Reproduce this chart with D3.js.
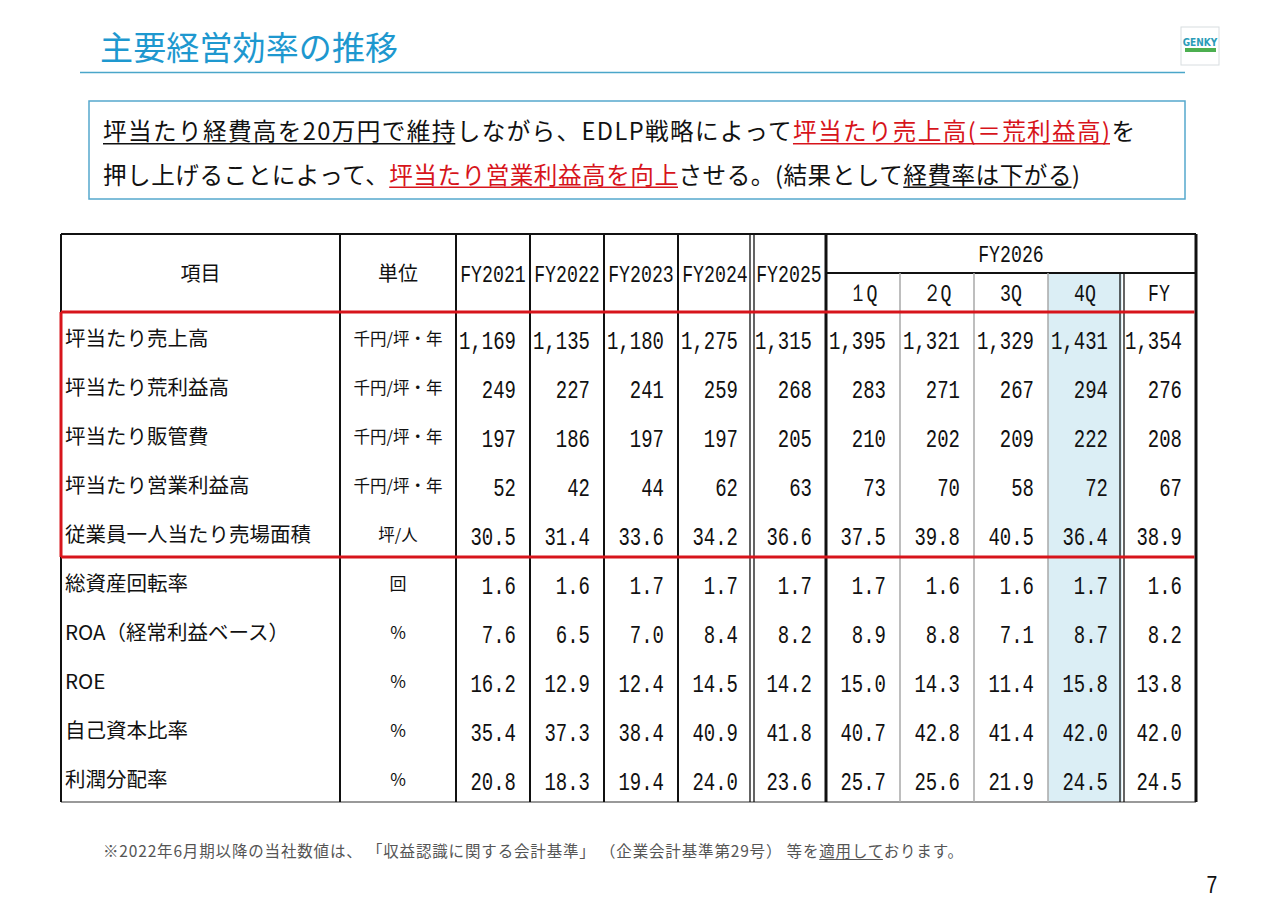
<!DOCTYPE html>
<html lang="ja">
<head>
<meta charset="utf-8">
<script src="https://cdn.jsdelivr.net/npm/d3@7"></script>
<style>
  body { margin: 0; background: #fff; }
  svg { display: block; }
  .jp { font-family: "Noto Sans CJK JP", "Noto Sans", sans-serif; }
  .num { font-family: "Liberation Mono", "DejaVu Sans Mono", monospace; }
</style>
</head>
<body>
<svg id="slide" width="1280" height="904"></svg>
<script>
// table data
const items = [
  "坪当たり売上高", "坪当たり荒利益高", "坪当たり販管費", "坪当たり営業利益高",
  "従業員一人当たり売場面積", "総資産回転率", "ROA（経常利益ベース）", "ROE",
  "自己資本比率", "利潤分配率"
];
const units = ["千円/坪・年", "千円/坪・年", "千円/坪・年", "千円/坪・年", "坪/人", "回", "%", "%", "%", "%"];
const periods = ["FY2021", "FY2022", "FY2023", "FY2024", "FY2025", "1Q", "2Q", "3Q", "4Q", "FY"];
const quarterLabels = ["１Q", "２Q", "3Q", "4Q", "FY"];

const salesPerTsubo  = [1169, 1135, 1180, 1275, 1315, 1395, 1321, 1329, 1431, 1354];
const grossPerTsubo  = [249, 227, 241, 259, 268, 283, 271, 267, 294, 276];
const sgaPerTsubo    = [197, 186, 197, 197, 205, 210, 202, 209, 222, 208];
const opPerTsubo     = [52, 42, 44, 62, 63, 73, 70, 58, 72, 67];
const areaPerStaff   = [30.5, 31.4, 33.6, 34.2, 36.6, 37.5, 39.8, 40.5, 36.4, 38.9];
const assetTurnover  = [1.6, 1.6, 1.7, 1.7, 1.7, 1.7, 1.6, 1.6, 1.7, 1.6];
const roa            = [7.6, 6.5, 7.0, 8.4, 8.2, 8.9, 8.8, 7.1, 8.7, 8.2];
const roe            = [16.2, 12.9, 12.4, 14.5, 14.2, 15.0, 14.3, 11.4, 15.8, 13.8];
const equityRatio    = [35.4, 37.3, 38.4, 40.9, 41.8, 40.7, 42.8, 41.4, 42.0, 42.0];
const payoutRatio    = [20.8, 18.3, 19.4, 24.0, 23.6, 25.7, 25.6, 21.9, 24.5, 24.5];

const rows = [salesPerTsubo, grossPerTsubo, sgaPerTsubo, opPerTsubo, areaPerStaff,
              assetTurnover, roa, roe, equityRatio, payoutRatio];

const svg = d3.select("#slide");
const RED = "#d7141b";
const BLUE = "#1e98cf";

// title
svg.append("text").attr("class", "jp")
  .attr("x", 100).attr("y", 60)
  .attr("font-size", 33).attr("fill", BLUE)
  .attr("textLength", 298).attr("lengthAdjust", "spacing")
  .text("主要経営効率の推移");
svg.append("line")
  .attr("x1", 80).attr("x2", 1185).attr("y1", 72.5).attr("y2", 72.5)
  .attr("stroke", "#4aa6c9").attr("stroke-width", 1.5);

// logo
const logo = svg.append("g");
logo.append("rect").attr("x", 1181).attr("y", 27).attr("width", 38).attr("height", 38)
  .attr("fill", "#fff").attr("stroke", "#d8dde0");
logo.append("text").attr("x", 1200).attr("y", 46).attr("text-anchor", "middle")
  .attr("font-family", "DejaVu Sans Condensed, sans-serif").attr("font-weight", "bold")
  .attr("font-size", 10).attr("fill", "#2a9cb8").text("GENKY");
logo.append("rect").attr("x", 1185).attr("y", 48).attr("width", 31).attr("height", 4)
  .attr("fill", "#4caf50");

// text with continuous underlines under chosen pieces
function richText(parent, segs, px, py, size, width, ulWidth) {
  const t = parent.append("text").attr("class", "jp")
    .attr("x", px).attr("y", py).attr("font-size", size)
    .attr("textLength", width).attr("lengthAdjust", "spacing");
  const spans = [];
  let pos = 0;
  segs.forEach(([s, c, u]) => {
    t.append("tspan").attr("fill", c).text(s);
    if (u) spans.push([pos, pos + s.length - 1, c]);
    pos += s.length;
  });
  const node = t.node();
  spans.forEach(([a, b, c]) => {
    parent.append("line")
      .attr("x1", node.getStartPositionOfChar(a).x)
      .attr("x2", node.getEndPositionOfChar(b).x)
      .attr("y1", py + size * 0.16).attr("y2", py + size * 0.16)
      .attr("stroke", c).attr("stroke-width", ulWidth);
  });
  return t;
}

// message box
svg.append("rect").attr("x", 89).attr("y", 101).attr("width", 1096).attr("height", 98)
  .attr("fill", "none").attr("stroke", "#55a8cd").attr("stroke-width", 1.5);

const msgLines = [
  [["坪当たり経費高を20万円で維持", "#111", true], ["しながら、EDLP戦略によって", "#111", false],
   ["坪当たり売上高(＝荒利益高)", RED, true], ["を", "#111", false]],
  [["押し上げることによって、", "#111", false], ["坪当たり営業利益高を向上", RED, true],
   ["させる。(結果として", "#111", false], ["経費率は下がる", "#111", true], [")", "#111", false]]
];
const msgWidths = [1032, 977];
msgLines.forEach((segs, i) => richText(svg, segs, 103, 140 + i * 43.5, 23.6, msgWidths[i], 1.4));

// table geometry
const tLeft = 61, tRight = 1196, tTop = 234, midHead = 273, headBottom = 312, tBottom = 802;
const xItem = 340, xUnit = 456;
const x = d3.scaleBand().domain(periods).range([xUnit, tRight]);
const y = d3.scaleBand().domain(d3.range(items.length)).range([headBottom, tBottom]);

// highlighted 4Q column
svg.append("rect")
  .attr("x", x("4Q")).attr("y", midHead)
  .attr("width", x.bandwidth()).attr("height", tBottom - midHead)
  .attr("fill", "#dbeef5");

const grid = svg.append("g");
const line = (x1, y1, x2, y2, c, w) => grid.append("line")
  .attr("x1", x1).attr("y1", y1).attr("x2", x2).attr("y2", y2)
  .attr("stroke", c).attr("stroke-width", w);

// header lines
line(tLeft, tTop, tRight, tTop, "#111", 2);
line(x("1Q"), midHead, tRight, midHead, "#111", 2);
line(tLeft, tBottom, tRight, tBottom, "#777", 1.5);
line(tLeft, tTop, tLeft, tBottom, "#111", 2);
[xItem, xUnit, x("FY2022"), x("FY2023"), x("FY2024")].forEach(v => line(v, tTop, v, tBottom, "#111", 2));
// double line before FY2025
line(x("FY2025") - 2, tTop, x("FY2025") - 2, tBottom, "#111", 1.3);
line(x("FY2025") + 2, tTop, x("FY2025") + 2, tBottom, "#111", 1.3);
line(x("1Q"), tTop, x("1Q"), tBottom, "#111", 3);
["2Q", "3Q", "4Q"].forEach(k => line(x(k), midHead, x(k), tBottom, "#a8a8a8", 1.5));
line(x("FY") - 2, midHead, x("FY") - 2, tBottom, "#111", 1.3);
line(x("FY") + 2, midHead, x("FY") + 2, tBottom, "#111", 1.3);
line(tRight, tTop, tRight, tBottom, "#111", 3);

// red box around per-tsubo rows
const redBottom = y(4) + y.bandwidth();
line(tLeft, headBottom, tRight - 1.5, headBottom, RED, 3);
line(tLeft, redBottom, tRight - 1.5, redBottom, RED, 3);
line(tLeft, headBottom, tLeft, redBottom, RED, 3);

// condensed mono text helper
function mono(g, str, px, py, anchor, size) {
  return g.append("text").attr("class", "num")
    .attr("transform", `translate(${px},${py}) scale(0.76,1)`)
    .attr("text-anchor", anchor).attr("font-size", size || 24).attr("fill", "#111")
    .text(str);
}

// header text
const head = svg.append("g");
head.append("text").attr("class", "jp").attr("x", (tLeft + xItem) / 2).attr("y", 281)
  .attr("text-anchor", "middle").attr("font-size", 20).attr("fill", "#111").text("項目");
head.append("text").attr("class", "jp").attr("x", (xItem + xUnit) / 2).attr("y", 281)
  .attr("text-anchor", "middle").attr("font-size", 20).attr("fill", "#111").text("単位");
periods.slice(0, 5).forEach(p => mono(head, p, x(p) + x.bandwidth() / 2, 282, "middle", 24));
mono(head, "FY2026", (x("1Q") + tRight) / 2, 262, "middle", 24);
periods.slice(5).forEach((p, i) => {
  mono(head, quarterLabels[i], x(p) + x.bandwidth() / 2, 301, "middle", 24);
});

// body
const fmtInt = d3.format(",d"), fmtDec = d3.format(".1f");
const body = svg.append("g");
rows.forEach((vals, r) => {
  const cy = y(r);
  body.append("text").attr("class", "jp").attr("x", 65).attr("y", cy + 34)
    .attr("font-size", 20.5).attr("fill", "#111").text(items[r]);
  body.append("text").attr("class", "jp").attr("x", (xItem + xUnit) / 2).attr("y", cy + 33)
    .attr("text-anchor", "middle").attr("font-size", units[r].length > 2 ? 16.5 : 17)
    .attr("fill", "#111").text(units[r]);
  vals.forEach((v, c) => {
    const str = r < 4 ? fmtInt(v) : fmtDec(v);
    mono(body, str, x(periods[c]) + x.bandwidth() - 14, cy + 37, "end", 25);
  });
});

// footnote
richText(svg, [
  ["※2022年6月期以降の当社数値は、 「収益認識に関する会計基準」 （企業会計基準第29号） 等を", "#555", false],
  ["適用して", "#555", true],
  ["おります。", "#555", false]
], 103, 857, 15.5, 860, 1.1);

// page number
mono(svg, "7", 1212, 893, "middle", 26);
</script>
</body>
</html>
